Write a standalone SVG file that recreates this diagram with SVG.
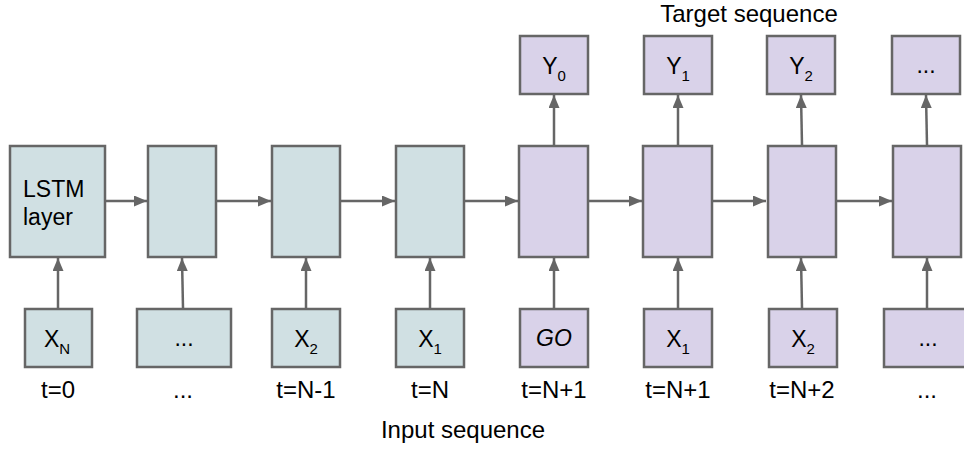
<svg xmlns="http://www.w3.org/2000/svg" width="964" height="471" viewBox="0 0 964 471">
<style>
.enc{fill:#d0e0e3;stroke:#666666;stroke-width:2.5}
.dec{fill:#d9d2e9;stroke:#666666;stroke-width:2.5}
.t{font-family:"Liberation Sans",Arial,sans-serif;font-size:23px;fill:#000}
.lbl{font-family:"Liberation Sans",Arial,sans-serif;font-size:24px;fill:#000;text-anchor:middle}
.sub{font-size:15px}
.c{fill:none;stroke:#666666;stroke-width:2.5}
</style>
<defs>
<marker id="ah" viewBox="0 0 13 11" refX="13" refY="5.5" markerWidth="5.2" markerHeight="4.4" orient="auto" markerUnits="strokeWidth">
<path d="M0,0 L13,5.5 L0,11 Z" fill="#666666"/>
</marker>
</defs>
<rect width="964" height="471" fill="#ffffff"/>
<g id="connectors">
<line class="c" x1="105" y1="201" x2="147" y2="201" marker-end="url(#ah)"/>
<line class="c" x1="216" y1="201" x2="271" y2="201" marker-end="url(#ah)"/>
<line class="c" x1="340" y1="201" x2="395" y2="201" marker-end="url(#ah)"/>
<line class="c" x1="464" y1="201" x2="518" y2="201" marker-end="url(#ah)"/>
<line class="c" x1="588" y1="201" x2="642" y2="201" marker-end="url(#ah)"/>
<line class="c" x1="712" y1="201" x2="766" y2="201" marker-end="url(#ah)"/>
<line class="c" x1="836" y1="201" x2="892" y2="201" marker-end="url(#ah)"/>
<line class="c" x1="58" y1="308" x2="58" y2="258" marker-end="url(#ah)"/>
<line class="c" x1="183" y1="308" x2="182" y2="258" marker-end="url(#ah)"/>
<line class="c" x1="306" y1="308" x2="306" y2="258" marker-end="url(#ah)"/>
<line class="c" x1="430" y1="308" x2="430" y2="258" marker-end="url(#ah)"/>
<line class="c" x1="554" y1="308" x2="554" y2="258" marker-end="url(#ah)"/>
<line class="c" x1="678" y1="308" x2="678" y2="258" marker-end="url(#ah)"/>
<line class="c" x1="802" y1="308" x2="801" y2="258" marker-end="url(#ah)"/>
<line class="c" x1="927" y1="308" x2="927" y2="258" marker-end="url(#ah)"/>
<line class="c" x1="554" y1="145" x2="554" y2="95" marker-end="url(#ah)"/>
<line class="c" x1="678" y1="145" x2="678" y2="95" marker-end="url(#ah)"/>
<line class="c" x1="802" y1="145" x2="801" y2="95" marker-end="url(#ah)"/>
<line class="c" x1="927" y1="145" x2="926" y2="95" marker-end="url(#ah)"/>
</g>
<g id="lstm0"><rect class="enc" x="10" y="146" width="95" height="111"/><text class="t" x="23" y="197" font-size="25">LSTM</text><text class="t" x="23" y="225" font-size="25">layer</text></g>
<g id="lstm1"><rect class="enc" x="148" y="146" width="68" height="111"/></g>
<g id="lstm2"><rect class="enc" x="272" y="146" width="68" height="111"/></g>
<g id="lstm3"><rect class="enc" x="396" y="146" width="68" height="111"/></g>
<g id="lstm4"><rect class="dec" x="519" y="146" width="69" height="111"/></g>
<g id="lstm5"><rect class="dec" x="643" y="146" width="69" height="111"/></g>
<g id="lstm6"><rect class="dec" x="768" y="146" width="68" height="111"/></g>
<g id="lstm7"><rect class="dec" x="893" y="146" width="68" height="111"/></g>
<g id="in0"><rect class="enc" x="25" y="309" width="67" height="58"/><text class="t" x="57" y="347" text-anchor="middle">X<tspan class="sub" dy="7">N</tspan></text></g>
<g id="in1"><rect class="enc" x="137" y="309" width="94" height="58"/><text class="t" x="184" y="346" text-anchor="middle">...</text></g>
<g id="in2"><rect class="enc" x="272" y="309" width="68" height="58"/><text class="t" x="306" y="347" text-anchor="middle">X<tspan class="sub" dy="7">2</tspan></text></g>
<g id="in3"><rect class="enc" x="396" y="309" width="68" height="58"/><text class="t" x="430" y="347" text-anchor="middle">X<tspan class="sub" dy="7">1</tspan></text></g>
<g id="in4"><rect class="dec" x="520" y="309" width="68" height="58"/><text class="t" x="554" y="346" text-anchor="middle" font-style="italic">GO</text></g>
<g id="in5"><rect class="dec" x="644" y="309" width="68" height="58"/><text class="t" x="678" y="347" text-anchor="middle">X<tspan class="sub" dy="7">1</tspan></text></g>
<g id="in6"><rect class="dec" x="769" y="309" width="68" height="58"/><text class="t" x="803" y="347" text-anchor="middle">X<tspan class="sub" dy="7">2</tspan></text></g>
<g id="in7"><rect class="dec" x="884" y="309" width="90" height="58"/><text class="t" x="928" y="346" text-anchor="middle">...</text></g>
<g id="out0"><rect class="dec" x="520" y="36" width="68" height="58"/><text class="t" x="554" y="74" text-anchor="middle">Y<tspan class="sub" dy="7">0</tspan></text></g>
<g id="out1"><rect class="dec" x="644" y="36" width="68" height="58"/><text class="t" x="678" y="74" text-anchor="middle">Y<tspan class="sub" dy="7">1</tspan></text></g>
<g id="out2"><rect class="dec" x="767" y="36" width="68" height="58"/><text class="t" x="801" y="74" text-anchor="middle">Y<tspan class="sub" dy="7">2</tspan></text></g>
<g id="out3"><rect class="dec" x="892" y="36" width="68" height="58"/><text class="t" x="926" y="73" text-anchor="middle">...</text></g>
<g id="labels">
<text class="lbl" x="58" y="398">t=0</text>
<text class="lbl" x="183" y="398">...</text>
<text class="lbl" x="306" y="398">t=N-1</text>
<text class="lbl" x="430" y="398">t=N</text>
<text class="lbl" x="554" y="398">t=N+1</text>
<text class="lbl" x="678" y="398">t=N+1</text>
<text class="lbl" x="802" y="398">t=N+2</text>
<text class="lbl" x="927" y="398">...</text>
<text class="lbl" x="749" y="22">Target sequence</text>
<text class="lbl" x="463" y="438">Input sequence</text>
</g>
</svg>
